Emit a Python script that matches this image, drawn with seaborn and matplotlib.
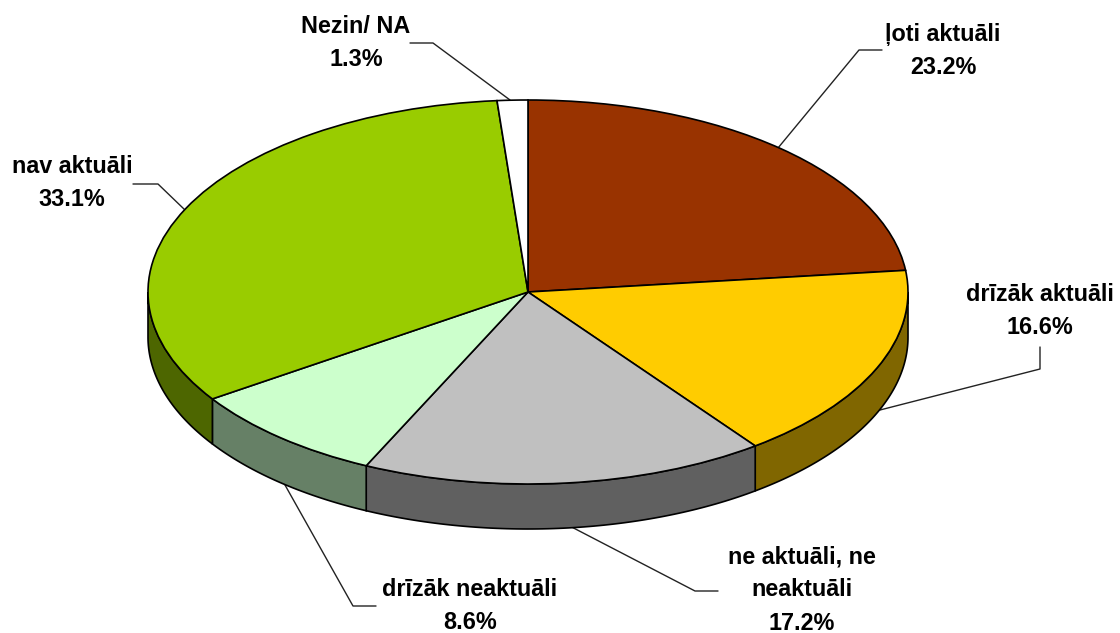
import numpy as np
import matplotlib
matplotlib.use("Agg")
import matplotlib.pyplot as plt
import seaborn as sns

# ─── Data ────────────────────────────────────────────────────────────────────
labels = ["ļoti aktuāli", "drīzāk aktuāli", "ne aktuāli, ne\nneaktuāli",
          "drīzāk neaktuāli", "nav aktuāli", "Nezin/ NA"]
values = [23.2, 16.6, 17.2, 8.6, 33.1, 1.3]
colors = ["#993300", "#FFCC00", "#C0C0C0", "#CCFFCC", "#99CC00", "#FFFFFF"]

# ─── Layout (reference pixels) ───────────────────────────────────────────────
W, H = 1120, 633
CX, CY, RX, RY = 528, 292, 380, 192
DEPTH = 45 / RY
label_pos = [(943, 51), (1040, 311), (802, 590), (470, 606), (72, 183), (356, 43)]
leaders = [
    [(778, 148), (859, 50), (882, 50)],
    [(880, 410), (1040, 369), (1040, 347)],
    [(562, 522), (695, 591), (718, 591)],
    [(285, 485), (353, 606), (376, 606)],
    [(185, 210), (158, 184), (133, 184)],
    [(510, 100), (433, 43), (410, 43)],
]


def to_data(x, y):
    return (x - CX) / RX, (CY - y) / RY


sns.set_theme(style="white")
plt.rcParams["font.family"] = ["Liberation Sans", "DejaVu Sans"]

fig = plt.figure(figsize=(W / 100, H / 100), dpi=100)
ax = fig.add_axes([0, 0, 1, 1])

palette = sns.color_palette(colors)
wedges, _ = ax.pie(values, colors=palette, startangle=90, counterclock=False,
                   wedgeprops={"edgecolor": "black", "linewidth": 1.2})
for w in wedges:
    w.set_zorder(3)

# side wall: only the part of each slice facing the viewer
for w, c in zip(wedges, palette):
    lo, hi = sorted((w.theta1, w.theta2))
    lo, hi = lo % 360, lo % 360 + (hi - lo)
    lo, hi = max(lo, 180), min(hi, 360)
    if hi <= lo:
        continue
    t = np.radians(np.linspace(lo, hi, 80))
    xs = np.r_[np.cos(t), np.cos(t[::-1])]
    ys = np.r_[np.sin(t), np.sin(t[::-1]) - DEPTH]
    side = tuple(v * 0.5 for v in c)
    ax.fill(xs, ys, facecolor=side, edgecolor="black", linewidth=1.2, zorder=2)

# leader lines
for pts in leaders:
    d = [to_data(*p) for p in pts]
    ax.plot([p[0] for p in d], [p[1] for p in d], color="#222222", lw=1, zorder=1)

# labels
for lab, val, (x, y) in zip(labels, values, label_pos):
    dx, dy = to_data(x, y)
    ax.text(dx, dy, f"{lab}\n{val:.1f}%", ha="center", va="center", fontsize=16.8,
            fontweight="bold", color="black", linespacing=1.57, zorder=5)

ax.set_aspect("auto")
ax.set_xlim(to_data(0, 0)[0], to_data(W, 0)[0])
ax.set_ylim(to_data(0, H)[1], to_data(0, 0)[1])
ax.axis("off")

fig.savefig("out.png", dpi=100, facecolor="white")
